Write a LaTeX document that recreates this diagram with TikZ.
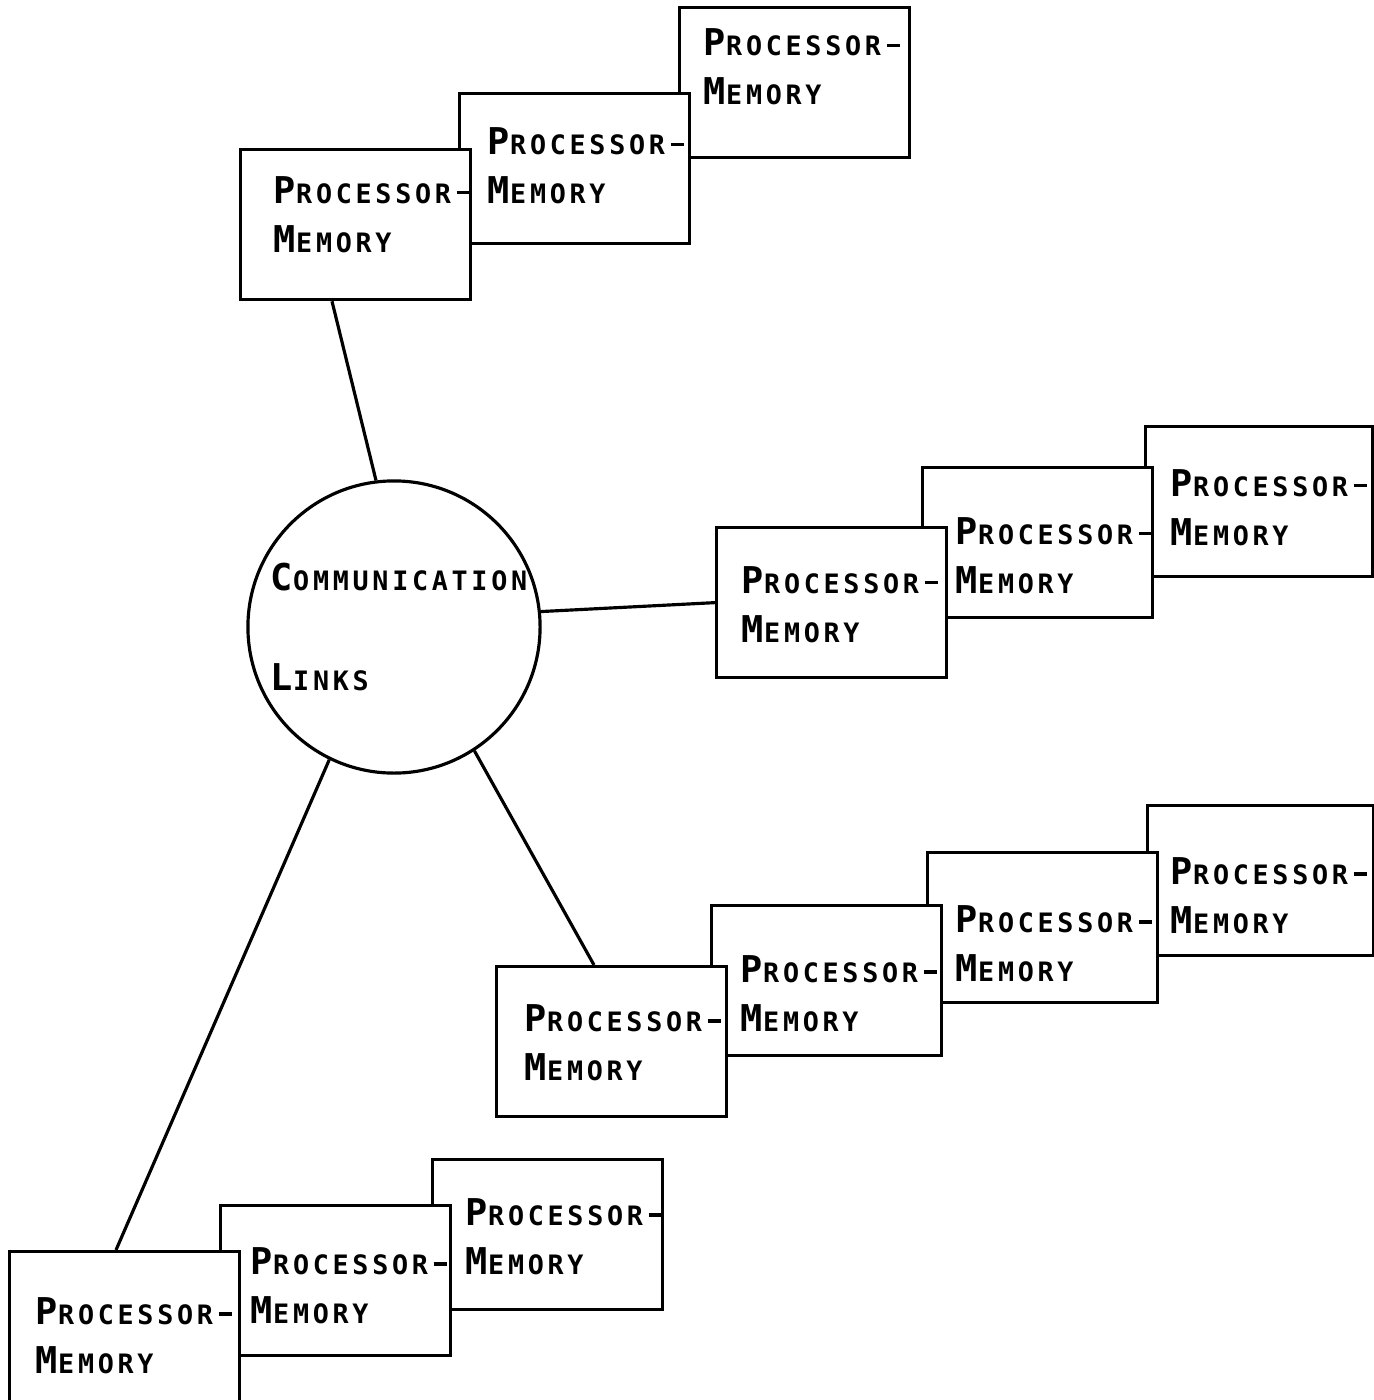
\documentclass[tikz,border=0pt]{standalone}
\usepackage{fontspec}
\usetikzlibrary{calc}
\newfontfamily\pmfont{DejaVu Sans Mono Bold}

% fixed-pitch small-caps lettering
\newlength\pmpitch \setlength\pmpitch{0.198cm}
\newlength\pmfirst \setlength\pmfirst{0.225cm}
\def\pmspread#1{\ifx#1\relax\else\makebox[\pmpitch][l]{#1}\expandafter\pmspread\fi}
\newcommand\pmword[2]{{\fontsize{10.5}{10.5}\selectfont\makebox[\pmfirst][l]{#1}}{\fontsize{7.6}{7.6}\selectfont\pmspread#2\relax}}
\newcommand\pmdash{\hspace{0.02cm}\rule[0.085cm]{0.13cm}{0.032cm}}

\tikzset{
  pmbox/.style={draw, fill=white, anchor=north west, minimum width=2.3cm,
    minimum height=1.5cm, inner sep=0pt, line width=0.9pt},
  pmlabel/.style={anchor=base west, inner sep=0pt, font=\pmfont},
  hub/.style={draw, circle, minimum size=2.92cm, inner sep=0pt, line width=0.9pt},
  link/.style={line width=0.9pt}
}

% one processor-memory box: name, box corner x,y, text start x, first baseline y, width
\newcommand\pmunit[6][2.3cm]{%
  \node[pmbox, minimum width=#1] (#2) at (#3,#4) {};
  \node[pmlabel] (#2-l1) at (#5,#6) {\pmword{P}{ROCESSOR}\pmdash};
  \node[pmlabel] (#2-l2) at (#5,#6+49) {\pmword{M}{EMORY}};
}

\begin{document}
\begin{tikzpicture}[x=0.01cm, y=-0.01cm]
  \fill[white] (0,0) rectangle (1374,1400);
  \useasboundingbox (0,0) rectangle (1374,1400);

  % hub
  \node[hub] (links) at (394,627) {};
  \node[pmlabel] (comm) at (270,590) {\pmword{C}{OMMUNICATION}};
  \node[pmlabel] (lnk) at (270,690) {\pmword{L}{INKS}};

  % upper group
  \pmunit{C}{678}{6}{703}{56}
  \pmunit{B}{458}{92}{487}{155}
  \pmunit{A}{239}{148}{273}{203}

  % right group
  \pmunit[2.27cm]{G2b}{1144}{425}{1170}{496}
  \pmunit{G2m}{921}{466}{955}{544}
  \pmunit{G2f}{715}{526}{741}{593}

  % lower right group
  \pmunit[2.26cm]{G3b}{1146}{804}{1170}{884}
  \pmunit{G3t}{926}{851}{955}{932}
  \pmunit{G3m}{710}{904}{740}{982}
  \pmunit{G3f}{495}{965}{524}{1031}

  % lower left group
  \pmunit{G4b}{431}{1158}{465}{1225}
  \pmunit{G4m}{219}{1204}{250}{1274}
  \pmunit{G4f}{8}{1250}{35}{1324}

  % attachment points on the boxes
  \coordinate (jA) at ($(A.south west)+(93,0)$);
  \coordinate (jG3) at ($(G3f.north west)+(99,0)$);
  \coordinate (jG4) at ($(G4f.north west)+(108,0)$);

  % connectors
  \draw[link] (links.97.6) -- (jA);
  \draw[link] (links.6.7) -- (G2f.west);
  \draw[link] (links.-57) -- (jG3);
  \draw[link] (links.-116.7) -- (jG4);
\end{tikzpicture}
\end{document}
